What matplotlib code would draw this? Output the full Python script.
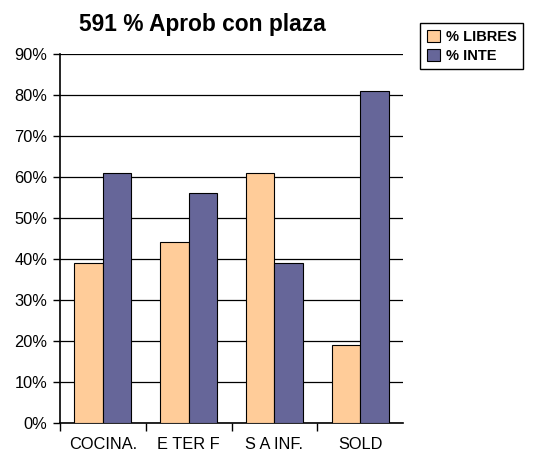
import matplotlib.pyplot as plt
import numpy as np

plt.rcParams['font.family'] = ['Liberation Sans', 'DejaVu Sans']

# Data
categories = ['COCINA.', 'E TER F', 'S A INF.', 'SOLD']
libres = [39, 44, 61, 19]
inte = [61, 56, 39, 81]
yticks = [0, 10, 20, 30, 40, 50, 60, 70, 80, 90]

fig = plt.figure(figsize=(5.36, 4.58), dpi=100)
ax = fig.add_axes([60/536, 1 - 422.7/458, 343/536, 369/458])

x = np.arange(len(categories))
w = 1/3
ax.bar(x - w/2, libres, w, color='#FFCC99', edgecolor='black', linewidth=0.8,
       label='% LIBRES', zorder=3)
ax.bar(x + w/2, inte, w, color='#666699', edgecolor='black', linewidth=0.8,
       label='% INTE', zorder=3)

ax.set_xlim(-0.5, len(categories) - 0.5)
ax.set_ylim(0, 90)
ax.set_yticks(yticks)
ax.set_yticklabels([f'{v}%' for v in yticks], fontsize=11.8)
ax.yaxis.grid(True, color='black', linewidth=0.9, zorder=0)
ax.set_axisbelow(True)

# category labels centered, tick marks on the boundaries
ax.set_xticks(x)
ax.set_xticklabels(categories, fontsize=11.8)
ax.tick_params(axis='x', length=0, pad=10)
ax.set_xticks(np.arange(-0.5, len(categories) - 0.5), minor=True)
ax.tick_params(axis='x', which='minor', length=6, width=1, direction='out')
ax.tick_params(axis='y', length=5, width=1, direction='out', pad=4)

for s in ['top', 'right']:
    ax.spines[s].set_visible(False)
for s in ['left', 'bottom']:
    ax.spines[s].set_linewidth(1.2)

fig.text(202.5/536, 1 - 24/458, '591 % Aprob con plaza', fontsize=16.4,
         fontweight='bold', ha='center', va='center')

leg = fig.legend(loc='upper right', bbox_to_anchor=(523/536, 1 - 23/458),
                 fancybox=False, edgecolor='black', framealpha=1,
                 prop={'weight': 'bold', 'size': 10.5}, handlelength=0.9,
                 handleheight=0.9, handletextpad=0.4, borderpad=0.45,
                 labelspacing=0.35, borderaxespad=0)
leg.get_frame().set_linewidth(1.0)

fig.savefig('out.png', dpi=100)
